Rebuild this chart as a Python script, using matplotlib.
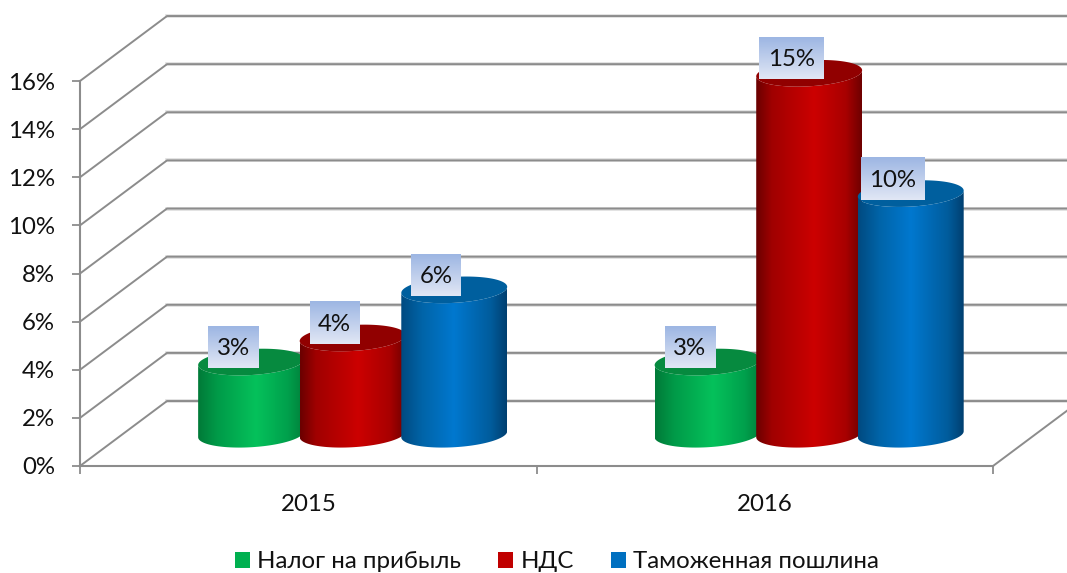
import numpy as np
import matplotlib
matplotlib.use("Agg")
import matplotlib.pyplot as plt
from matplotlib.colors import LinearSegmentedColormap
from matplotlib.patches import Patch
from matplotlib.path import Path

years = ["2015", "2016"]
series_names = ["Налог на прибыль", "НДС", "Таможенная пошлина"]
nalog = [3, 3]
nds = [4, 15]
poshlina = [6, 10]
y_ticks = [0, 2, 4, 6, 8, 10, 12, 14, 16]

legend_colors = ["#00b050", "#c00000", "#0070c0"]
top_colors = ["#068a3f", "#910000", "#005f9e"]
body_stops = [
    [(0, "#007a38"), (0.18, "#009a48"), (0.55, "#05c15b"), (0.85, "#00a04c"), (1, "#007f3a")],
    [(0, "#6a0000"), (0.15, "#a00000"), (0.55, "#cc0000"), (0.85, "#a80000"), (1, "#6e0000")],
    [(0, "#004a80"), (0.2, "#0064a8"), (0.5, "#0078cf"), (0.85, "#005c9c"), (1, "#003f70")],
]

# fake 3d: the back wall is shifted from the front plane by this much (data units)
DEPTH_X = 0.1906
DEPTH_Y = 2.70
BAR_STEP = 0.2225
BAR_A = 0.116   # half width
BAR_B = 0.54    # ellipse half height
BAR_K = 0.125   # ellipse tilt
BAR_SHIFT = 0.002
GRID = "#8c8c8c"
FONT = 17.3

plt.rcParams["font.family"] = ["Lato", "Open Sans", "DejaVu Sans"]

fig = plt.figure(figsize=(10.67, 5.73), dpi=100)
ax = fig.add_axes([80 / 1067, (573 - 466) / 573, 913 / 1067, 385 / 573])
ax.set_xlim(0, 2)
ax.set_ylim(0, 16)
ax.set_autoscale_on(False)
ax.patch.set_visible(False)

for s in ["top", "right"]:
    ax.spines[s].set_visible(False)
for s in ["left", "bottom"]:
    ax.spines[s].set_color(GRID)
    ax.spines[s].set_linewidth(1.5)

ax.set_yticks(y_ticks)
ax.set_yticklabels([f"{v}%" for v in y_ticks], fontsize=FONT, color="#111111")
ax.tick_params(axis="y", length=6, width=1.3, color=GRID, pad=12)
ax.set_xticks([0, 1, 2])
ax.set_xticklabels(["", "", ""])
ax.tick_params(axis="x", which="major", length=6, width=1.3, color=GRID)
ax.set_xticks([0.5, 1.5], minor=True)
ax.set_xticklabels(years, minor=True, fontsize=FONT, color="#111111")
ax.tick_params(axis="x", which="minor", length=0, pad=20)

# walls
for v in y_ticks:
    xs = [0, DEPTH_X, 2 + DEPTH_X]
    ys = [v, v + DEPTH_Y, v + DEPTH_Y]
    ax.plot(xs[1:], ys[1:], color="#dddddd", lw=2.6, clip_on=False, zorder=1)
    ax.plot(xs, ys, color=GRID, lw=1.4, clip_on=False, zorder=1.1)
ax.plot([2, 2 + DEPTH_X], [0, DEPTH_Y], color=GRID, lw=1.4, clip_on=False, zorder=1.1)


def ellipse(cx, cy, t):
    return cx + BAR_A * np.cos(t), cy + BAR_B * np.sin(t) + BAR_K * np.cos(t)


def draw_cylinder(center, value, stops, top_color, z):
    cx = center + DEPTH_X / 2 + BAR_SHIFT
    base = DEPTH_Y / 2 - 0.03
    top = base + value
    t = np.linspace(0, -np.pi, 60)
    bx, by = ellipse(cx, base, t)
    tx, ty = ellipse(cx, top, t[::-1])
    verts = np.vstack([np.column_stack([bx, by]), np.column_stack([tx, ty]), [[bx[0], by[0]]]])
    body = Path(verts)
    cmap = LinearSegmentedColormap.from_list("body", stops)
    grad = np.linspace(0, 1, 256).reshape(1, -1)
    im = ax.imshow(grad, cmap=cmap, aspect="auto", zorder=z, interpolation="bilinear",
                   extent=[cx - BAR_A, cx + BAR_A, base - 1, top + 1])
    im.set_clip_path(body, transform=ax.transData)
    im.set_clip_box(fig.bbox)
    t2 = np.linspace(0, 2 * np.pi, 120)
    ex, ey = ellipse(cx, top, t2)
    ax.fill(ex, ey, color=top_color, lw=0, zorder=z + 0.01, clip_on=False)
    return cx, top


label_cmap = LinearSegmentedColormap.from_list("lbl", ["#e1e7f5", "#9db6e3"])
tops = []
all_values = [nalog, nds, poshlina]
for c in range(len(years)):
    for i, values in enumerate(all_values):
        center = c + 0.5 + (i - 1) * BAR_STEP
        cx, top = draw_cylinder(center, values[c], body_stops[i], top_colors[i], 3 + c + i * 0.1)
        tops.append((cx, top, values[c]))

# data labels, box with gradient behind the text
labels = []
for cx, top, v in tops:
    txt = ax.annotate(f"{v}%", xy=(cx, top), xytext=(-18 * 0.72, 13.5 * 0.72), textcoords="offset points",
                      ha="center", va="center", fontsize=FONT, color="#111111", zorder=11,
                      annotation_clip=False)
    labels.append((txt, cx, top))

fig.canvas.draw()
renderer = fig.canvas.get_renderer()
inv = ax.transData.inverted()
for txt, cx, top in labels:
    box = txt.get_window_extent(renderer)
    px, py = ax.transData.transform((cx, top))
    mid_x = px - 18
    mid_y = py + 15
    half_w = box.width / 2 + 8.5
    (x0, y0) = inv.transform((mid_x - half_w, mid_y - 21))
    (x1, y1) = inv.transform((mid_x + half_w, mid_y + 21))
    im = ax.imshow(np.linspace(0, 1, 64).reshape(-1, 1)[::-1], cmap=label_cmap, aspect="auto",
                   extent=[x0, x1, y0, y1], zorder=10, interpolation="bilinear", vmin=0, vmax=1)
    im.set_clip_on(False)

ax.set_xlim(0, 2)
ax.set_ylim(0, 16)

handles = [Patch(color=c, lw=0) for c in legend_colors]
fig.legend(handles, series_names, loc="center", bbox_to_anchor=(557 / 1067, 11 / 573), ncol=3,
           frameon=False, fontsize=FONT, handlelength=0.62, handleheight=0.62, handletextpad=0.3,
           columnspacing=1.55, labelcolor="#111111", borderaxespad=0, borderpad=0)

fig.savefig("out.png", dpi=100)
